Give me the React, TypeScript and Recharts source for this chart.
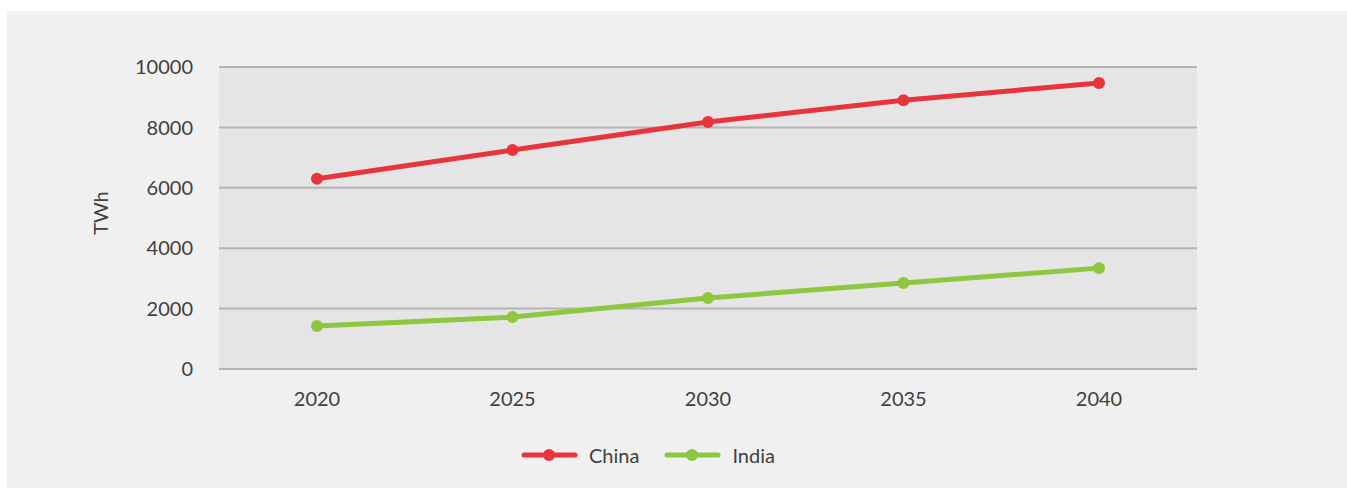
import { LineChart, Line, XAxis, YAxis, CartesianGrid } from 'recharts';

const years = ['2020', '2025', '2030', '2035', '2040'];
const china = [6300, 7250, 8180, 8900, 9470];
const india = [1420, 1720, 2350, 2850, 3340];
const yTicks = [0, 2000, 4000, 6000, 8000, 10000];

const RED = '#e8353c';
const GREEN = '#8dc63f';
const TEXT = '#404040';
const FONT = 'Lato, "Open Sans", sans-serif';

const data = years.map((year, i) => ({ year, China: china[i], India: india[i] }));

const series = [
  { key: 'China', color: RED },
  { key: 'India', color: GREEN },
];

// legend drawn outside the chart so it doesn't eat plot height
function LegendBox() {
  return (
    <div
      style={{
        position: 'absolute',
        left: 514,
        top: 432,
        display: 'flex',
        alignItems: 'center',
        fontFamily: FONT,
        fontSize: 20,
        color: TEXT,
      }}
    >
      {series.map((s, i) => (
        <div key={s.key} style={{ display: 'flex', alignItems: 'center', marginLeft: i ? 25 : 0 }}>
          <svg width={57} height={14}>
            <line x1={3} y1={7} x2={54} y2={7} stroke={s.color} strokeWidth={5} strokeLinecap="round" />
            <circle cx={28} cy={7} r={6} fill={s.color} />
          </svg>
          <span style={{ marginLeft: 11 }}>{s.key}</span>
        </div>
      ))}
    </div>
  );
}

export default function App() {
  return (
    <div style={{ position: 'absolute', left: 0, top: 0, width: 1347, height: 488, background: '#ffffff' }}>
      <div style={{ position: 'absolute', left: 7, top: 11, width: 1340, height: 477, background: '#f0f0f0' }}>
        <LineChart width={1340} height={477} data={data} margin={{ top: 56, right: 150, bottom: 79, left: 0 }}>
          <CartesianGrid vertical={false} stroke="#b4b4b4" strokeWidth={2} fill="#e5e5e5" />
          <XAxis
            dataKey="year"
            height={40}
            padding={{ left: 98, right: 98 }}
            axisLine={false}
            tickLine={false}
            tickSize={0}
            tickMargin={23}
            tick={{ fill: TEXT, fontSize: 20, fontFamily: FONT }}
          />
          <YAxis
            width={212}
            domain={[0, 10000]}
            ticks={yTicks}
            axisLine={false}
            tickLine={false}
            tickSize={0}
            tickMargin={26}
            tick={{ fill: TEXT, fontSize: 20, fontFamily: FONT }}
            label={{
              content: () => (
                <text
                  x={93}
                  y={202}
                  transform="rotate(-90 93 202)"
                  textAnchor="middle"
                  dominantBaseline="central"
                  fill={TEXT}
                  fontSize={20}
                  fontFamily={FONT}
                >
                  TWh
                </text>
              ),
            }}
          />
          {series.map((s) => (
            <Line
              key={s.key}
              dataKey={s.key}
              stroke={s.color}
              strokeWidth={5}
              dot={{ r: 6, fill: s.color, stroke: s.color, strokeWidth: 0 }}
              activeDot={false}
              isAnimationActive={false}
            />
          ))}
        </LineChart>
        <LegendBox />
      </div>
    </div>
  );
}
